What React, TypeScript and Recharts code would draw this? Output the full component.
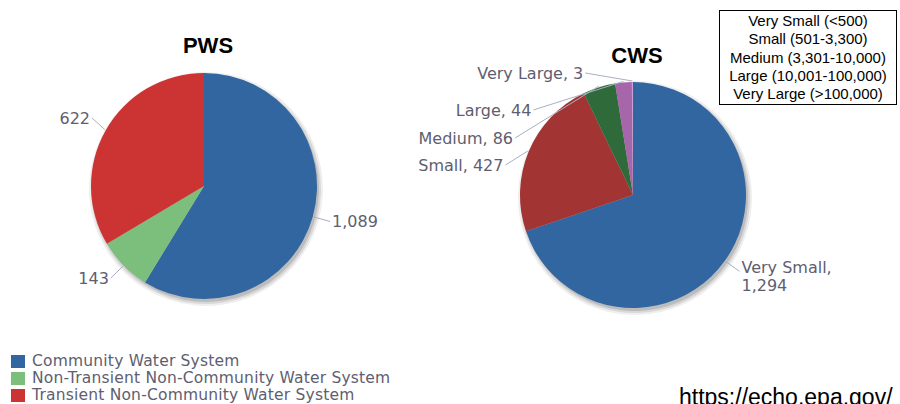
import React from 'react';
import { PieChart, Pie, Cell, Legend } from 'recharts';

// ---- data ----
const pwsCategories = [
  'Community Water System',
  'Non-Transient Non-Community Water System',
  'Transient Non-Community Water System',
];
const pwsValues = [1089, 143, 622];
const pwsColors = ['#3266a0', '#7cbf7c', '#cc3333'];

const cwsCategories = ['Very Small', 'Small', 'Medium', 'Large', 'Very Large'];
const cwsValues = [1294, 427, 86, 44, 3];
const cwsColors = ['#3266a0', '#a23434', '#2f6b3a', '#a666a9', '#c9a0d6'];

const sizeRanges = [
  'Very Small (<500)',
  'Small (501-3,300)',
  'Medium (3,301-10,000)',
  'Large (10,001-100,000)',
  'Very Large (>100,000)',
];

const titles = ['PWS', 'CWS'];
const sourceUrl = 'https://echo.epa.gov/';

// ---- layout (label de-collision offsets relative to pie centre) ----
const pwsLabelDy: (number | null)[] = [null, null, -68];
const cwsLabelDy: (number | null)[] = [null, -30, -57, -85, -122];

const pwsData = pwsCategories.map((name, i) => ({ name, value: pwsValues[i] }));
const cwsData = cwsCategories.map((name, i) => ({ name, value: cwsValues[i] }));

const LABEL_FONT = '"DejaVu Sans", Verdana, sans-serif';
const LABEL_COLOR = '#5e5e70';
const LINE_COLOR = '#a8b0c0';
const fmt = (v: number) => v.toLocaleString('en-US');

// soft shadow rings: [extra radius, colour]
const shadowRings: [number, string][] = [
  [4, '#efefef'],
  [2, '#d8d8d8'],
  [0, '#bcbcbc'],
];

function makeLabel(showName: boolean, dyOverride: (number | null)[], wrapRight: boolean) {
  return (props: any) => {
    const RAD = Math.PI / 180;
    const { cx, cy, midAngle, outerRadius, index, name, value } = props;
    const cos = Math.cos(-midAngle * RAD);
    const sin = Math.sin(-midAngle * RAD);
    const R = outerRadius + 18;
    let ly = cy + R * sin;
    const ov = dyOverride[index];
    if (ov !== null && ov !== undefined) ly = cy + ov;
    const dy = ly - cy;
    const right = cos >= 0;
    const dx = Math.sqrt(Math.max(R * R - dy * dy, 0));
    const lx = cx + (right ? dx : -dx);
    const ax = cx + (outerRadius + 1) * cos;
    const ay = cy + (outerRadius + 1) * sin;
    const tx = lx + (right ? 2 : -2);
    const text = showName ? `${name}, ${fmt(value)}` : fmt(value);
    const wrap = wrapRight && right && showName;
    return (
      <g key={`lbl-${index}`}>
        <polyline
          points={`${ax},${ay} ${lx},${ly}`}
          fill="none"
          stroke={LINE_COLOR}
          strokeWidth={1}
        />
        {wrap ? (
          <text
            x={tx}
            y={ly - 4}
            textAnchor="start"
            fontFamily={LABEL_FONT}
            fontSize={16}
            fill={LABEL_COLOR}
            dominantBaseline="central"
          >
            <tspan x={tx}>{`${name},`}</tspan>
            <tspan x={tx} dy={18}>{fmt(value)}</tspan>
          </text>
        ) : (
          <text
            x={tx}
            y={ly}
            textAnchor={right ? 'start' : 'end'}
            fontFamily={LABEL_FONT}
            fontSize={16}
            fill={LABEL_COLOR}
            dominantBaseline="central"
          >
            {text}
          </text>
        )}
      </g>
    );
  };
}

const BottomLegend = () => (
  <div style={{ fontFamily: LABEL_FONT, fontSize: 15.5, color: LABEL_COLOR, letterSpacing: 0.2 }}>
    {pwsCategories.map((c, i) => (
      <div
        key={c}
        style={{ display: 'flex', alignItems: 'center', height: 17, lineHeight: '17px', whiteSpace: 'nowrap' }}
      >
        <span
          style={{
            display: 'inline-block',
            width: 14,
            height: 13,
            background: pwsColors[i],
            marginRight: 7,
          }}
        />
        <span style={{ lineHeight: '17px' }}>{c}</span>
      </div>
    ))}
  </div>
);

// a separate chart layer under the main chart, holding one soft shadow disc
function ShadowLayer({ data, cx, cy, extra, color }: { data: { name: string; value: number }[]; cx: number; cy: number; extra: number; color: string }) {
  return (
    <div style={{ position: 'absolute', left: 0, top: 0 }}>
      <PieChart width={900} height={404} margin={{ top: 0, right: 0, bottom: 0, left: 0 }}>
        <Pie
          data={data}
          dataKey="value"
          nameKey="name"
          cx={cx + 2}
          cy={cy + 3}
          outerRadius={113 + extra}
          startAngle={90}
          endAngle={-270}
          stroke="none"
          fill={color}
          isAnimationActive={false}
          labelLine={false}
          label={false}
        >
          {data.map((d) => (
            <Cell key={`s-${d.name}`} fill={color} />
          ))}
        </Pie>
      </PieChart>
    </div>
  );
}

export default function App() {
  return (
    <div
      style={{
        position: 'absolute',
        left: 0,
        top: 0,
        width: 900,
        height: 404,
        overflow: 'hidden',
        background: '#ffffff',
      }}
    >
      {shadowRings.map(([extra, color]) => (
        <ShadowLayer key={`p-${extra}`} data={pwsData} cx={204} cy={186} extra={extra} color={color} />
      ))}
      {shadowRings.map(([extra, color]) => (
        <ShadowLayer key={`c-${extra}`} data={cwsData} cx={633} cy={195} extra={extra} color={color} />
      ))}
      <div style={{ position: 'absolute', left: 0, top: 0 }}>
        <PieChart width={900} height={404} margin={{ top: 0, right: 0, bottom: 0, left: 0 }}>
          <Pie
            data={pwsData}
            dataKey="value"
            nameKey="name"
            cx={204}
            cy={186}
            outerRadius={113}
            startAngle={90}
            endAngle={-270}
            stroke="none"
            isAnimationActive={false}
            labelLine={false}
            label={makeLabel(false, pwsLabelDy, false)}
          >
            {pwsData.map((d, i) => (
              <Cell key={d.name} fill={pwsColors[i]} />
            ))}
          </Pie>
          <Pie
            data={cwsData}
            dataKey="value"
            nameKey="name"
            cx={633}
            cy={195}
            outerRadius={113}
            startAngle={90}
            endAngle={-270}
            stroke="none"
            isAnimationActive={false}
            labelLine={false}
            label={makeLabel(true, cwsLabelDy, true)}
          >
            {cwsData.map((d, i) => (
              <Cell key={d.name} fill={cwsColors[i]} />
            ))}
          </Pie>
          <Legend
            content={() => <BottomLegend />}
            wrapperStyle={{ position: 'absolute', left: 11, top: 353, width: 430, bottom: 'auto' }}
          />
        </PieChart>
      </div>

      {/* titles */}
      <div
        style={{
          position: 'absolute',
          left: 158,
          width: 100,
          top: 33,
          textAlign: 'center',
          fontFamily: '"Liberation Sans", Arial, sans-serif',
          fontWeight: 'bold',
          fontSize: 22,
          lineHeight: '26px',
          color: '#000',
        }}
      >
        {titles[0]}
      </div>
      <div
        style={{
          position: 'absolute',
          left: 587,
          width: 100,
          top: 43,
          textAlign: 'center',
          fontFamily: '"Liberation Sans", Arial, sans-serif',
          fontWeight: 'bold',
          fontSize: 22,
          lineHeight: '26px',
          color: '#000',
        }}
      >
        {titles[1]}
      </div>

      {/* size ranges box */}
      <div
        style={{
          position: 'absolute',
          left: 719,
          top: 10,
          width: 176,
          height: 92,
          border: '1px solid #000',
          background: '#fff',
          fontFamily: '"Liberation Sans", Arial, sans-serif',
          fontSize: 15,
          lineHeight: '18.25px',
          textAlign: 'center',
          color: '#000',
          paddingTop: 1,
          boxSizing: 'content-box',
        }}
      >
        {sizeRanges.map((s) => (
          <div key={s} style={{ whiteSpace: 'nowrap' }}>
            {s}
          </div>
        ))}
      </div>

      {/* source url (cut off by the bottom edge, as in the reference) */}
      <div
        style={{
          position: 'absolute',
          left: 679,
          top: 383,
          fontFamily: '"Liberation Sans", Arial, sans-serif',
          fontSize: 23,
          lineHeight: '28px',
          color: '#000',
          whiteSpace: 'nowrap',
        }}
      >
        {sourceUrl}
      </div>
    </div>
  );
}
